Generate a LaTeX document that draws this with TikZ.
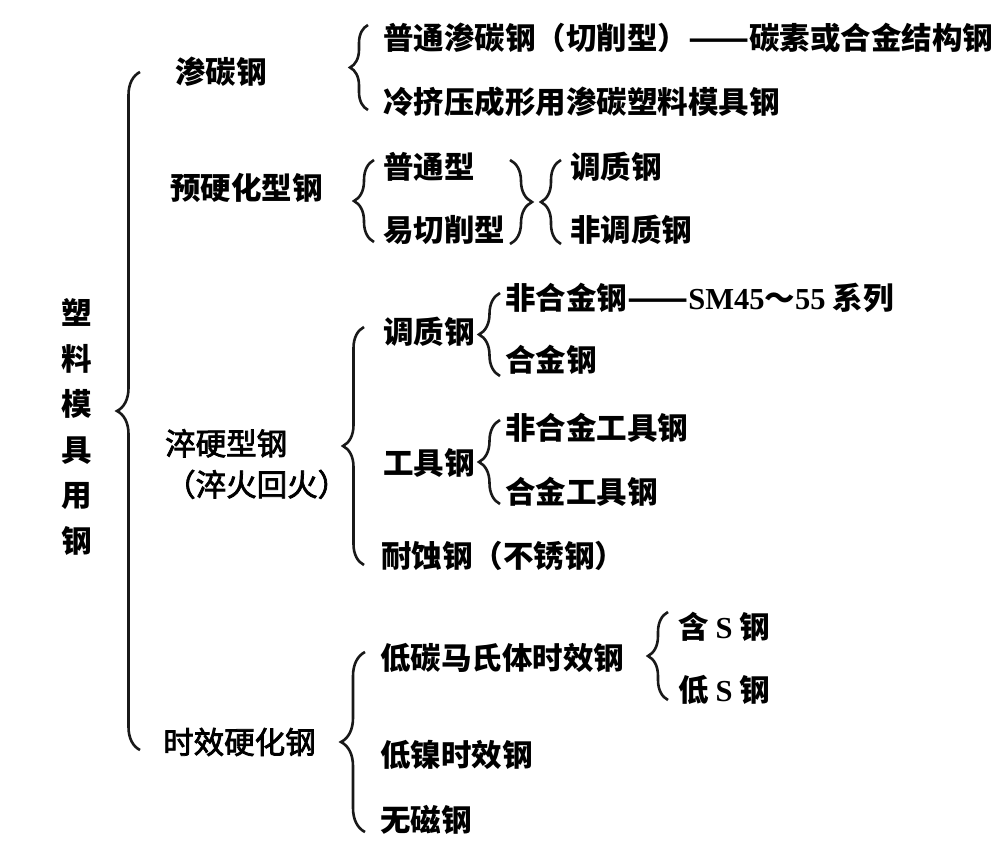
\documentclass[tikz,border=0pt]{standalone}
\usepackage{fontspec}
\usepackage{graphicx}
\setmainfont{Noto Sans CJK SC}
\newfontfamily\midcjk[FakeBold=2.5]{Noto Sans CJK SC}
\newfontfamily\latinb{Liberation Serif}
\usetikzlibrary{decorations.pathreplacing}
\newcommand{\ddash}{\scalebox{1.17}[1]{——}}

\begin{document}
\begin{tikzpicture}[
    x=1pt, y=-1pt,
    lbl/.style={anchor=west, inner sep=0pt, font=\fontsize{30.5}{41}\selectfont\bfseries},
    lite/.style={lbl, font=\fontsize{30.5}{41}\selectfont\midcjk},
    brc/.style={decorate, decoration={brace, amplitude=#1}, line width=2.6pt, color=black!90},
    brc/.default=18pt
]
\useasboundingbox[fill=white] (0,0) rectangle (996,864);

% Root
\node[lbl, anchor=center, align=center, font=\fontsize{30.5}{45.5}\selectfont\bfseries] (root) at (77,427) {塑\\料\\模\\具\\用\\钢};

% First level
\node[lbl] (cb) at (175,72) {渗碳钢};
\node[lbl] (yy) at (170,188) {预硬化型钢};
\node[lite, align=left] (cy) at (165,464) {淬硬型钢\\（淬火回火）};
\node[lite] (sx) at (163,742) {时效硬化钢};

% Second level
\node[lbl] (cb1) at (383,38) {普通渗碳钢（切削型）\ddash 碳素或合金结构钢};
\node[lbl] (cb2) at (383,102) {冷挤压成形用渗碳塑料模具钢};
\node[lbl] (yy1) at (383,167) {普通型};
\node[lbl] (yy2) at (383,230) {易切削型};
\node[lbl] (tz1) at (570,167) {调质钢};
\node[lbl] (tz2) at (570,230) {非调质钢};
\node[lbl] (cy1) at (383,332) {调质钢};
\node[lbl] (cy2) at (383,463) {工具钢};
\node[lbl] (cy3) at (381,556) {耐蚀钢（不锈钢）};
\node[lbl] (sx1) at (380,658) {低碳马氏体时效钢};
\node[lbl] (sx2) at (380,755) {低镍时效钢};
\node[lbl] (sx3) at (380,820) {无磁钢};

% Third level
\node[lbl] (cy11) at (505,298) {非合金钢\ddash{\latinb SM45}～{\latinb 55} 系列};
\node[lbl] (cy12) at (505,360) {合金钢};
\node[lbl] (cy21) at (505,428) {非合金工具钢};
\node[lbl] (cy22) at (505,492) {合金工具钢};
\node[lbl] (sx11) at (678,627) {含 {\latinb S} 钢};
\node[lbl] (sx12) at (678,690) {低 {\latinb S} 钢};

% Brace ends
\coordinate (root-t) at (140,72);  \coordinate (root-b) at (140,750);
\coordinate (cb-t) at (368,25);    \coordinate (cb-b) at (368,110);
\coordinate (yy-t) at (374,160);   \coordinate (yy-b) at (374,242);
\coordinate (yyr-t) at (510,160);  \coordinate (yyr-b) at (510,244);
\coordinate (tz-t) at (561,160);   \coordinate (tz-b) at (561,244);
\coordinate (cy-t) at (364,327);   \coordinate (cy-b) at (364,565);
\coordinate (cy1-t) at (500,293);  \coordinate (cy1-b) at (500,376);
\coordinate (cy2-t) at (500,420);  \coordinate (cy2-b) at (500,504);
\coordinate (sx-t) at (365,652);   \coordinate (sx-b) at (365,832);
\coordinate (sx1-t) at (668,612);  \coordinate (sx1-b) at (668,700);

% Braces
\draw[brc=23pt] (root-b) -- (root-t);
\draw[brc] (cb-b) -- (cb-t);
\draw[brc=20pt] (yy-b) -- (yy-t);
\draw[brc=22pt] (yyr-t) -- (yyr-b);
\draw[brc=20pt] (tz-b) -- (tz-t);
\draw[brc=21pt] (cy-b) -- (cy-t);
\draw[brc=21pt] (cy1-b) -- (cy1-t);
\draw[brc=21pt] (cy2-b) -- (cy2-t);
\draw[brc=24pt] (sx-b) -- (sx-t);
\draw[brc=20pt] (sx1-b) -- (sx1-t);

\end{tikzpicture}
\end{document}
